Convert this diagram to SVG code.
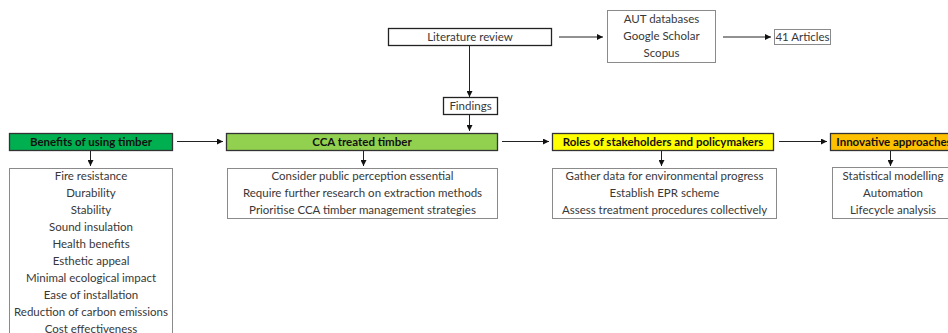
<svg xmlns="http://www.w3.org/2000/svg" width="948" height="333" viewBox="0 0 948 333">
<defs>
<marker id="ah" markerWidth="6" markerHeight="6" refX="6" refY="3" orient="auto" markerUnits="userSpaceOnUse">
<path d="M0,0 L6,3 L0,6 Z" fill="#111"/>
</marker>
<style>
text{font-family:Lato,"Open Sans",sans-serif;font-size:11.5px;fill:#383838;text-anchor:middle}
.h{font-weight:bold;fill:#111}
.hb{stroke:#333;stroke-width:1.3}
.cb{fill:#fff;stroke:#8a8a8a;stroke-width:1}
.kb{fill:#fff;stroke:#222;stroke-width:1.3}
.c{stroke:#222;stroke-width:1;fill:none;marker-end:url(#ah)}
</style>
</defs>
<rect width="948" height="333" fill="#fff"/>
<g id="connectors">
<line class="c" x1="559" y1="37" x2="603" y2="37"/>
<line class="c" x1="723" y1="37" x2="771" y2="37"/>
<line class="c" x1="469.5" y1="46" x2="469.5" y2="97"/>
<line class="c" x1="469.5" y1="115" x2="469.5" y2="131"/>
<line class="c" x1="177" y1="141.5" x2="223" y2="141.5"/>
<line class="c" x1="502" y1="141.5" x2="549" y2="141.5"/>
<line class="c" x1="779" y1="141.5" x2="827" y2="141.5"/>
<line class="c" x1="90.5" y1="151" x2="90.5" y2="166"/>
<line class="c" x1="363.5" y1="151" x2="363.5" y2="166"/>
<line class="c" x1="661.5" y1="151" x2="661.5" y2="166"/>
<line class="c" x1="890.5" y1="151" x2="890.5" y2="166"/>
</g>
<g id="literature-review">
<rect class="kb" x="388.5" y="28.5" width="163" height="17"/>
<text x="470" y="41">Literature review</text>
</g>
<g id="databases">
<rect class="cb" x="607.5" y="10.5" width="108" height="52"/>
<text x="661.5" y="23">AUT databases</text>
<text x="661.5" y="40">Google Scholar</text>
<text x="661.5" y="57">Scopus</text>
</g>
<g id="articles">
<rect class="cb" x="774.5" y="29.5" width="56" height="15"/>
<text x="802.5" y="41">41 Articles</text>
</g>
<g id="findings">
<rect class="kb" x="443.5" y="97.5" width="54" height="17"/>
<text x="470.5" y="110">Findings</text>
</g>
<g id="benefits">
<rect class="hb" x="9.5" y="133.5" width="163" height="17" fill="#00B050"/>
<text class="h" x="91" y="146">Benefits of using timber</text>
<rect class="cb" x="9.5" y="168.5" width="163" height="180"/>
<text x="91" y="180">Fire resistance</text>
<text x="91" y="197">Durability</text>
<text x="91" y="214">Stability</text>
<text x="91" y="231">Sound insulation</text>
<text x="91" y="248">Health benefits</text>
<text x="91" y="265">Esthetic appeal</text>
<text x="91" y="282">Minimal ecological impact</text>
<text x="91" y="299">Ease of installation</text>
<text x="91" y="316">Reduction of carbon emissions</text>
<text x="91" y="333">Cost effectiveness</text>
</g>
<g id="cca">
<rect class="hb" x="226.5" y="133.5" width="271" height="17" fill="#92D050"/>
<text class="h" x="362" y="146">CCA treated timber</text>
<rect class="cb" x="227.5" y="168.5" width="270" height="50"/>
<text x="362.5" y="180">Consider public perception essential</text>
<text x="362.5" y="197">Require further research on extraction methods</text>
<text x="362.5" y="214">Prioritise CCA timber management strategies</text>
</g>
<g id="roles">
<rect class="hb" x="552.5" y="133.5" width="221" height="17" fill="#FFFF00"/>
<text class="h" x="663" y="146">Roles of stakeholders and policymakers</text>
<rect class="cb" x="552.5" y="168.5" width="224" height="50"/>
<text x="664.5" y="180">Gather data for environmental progress</text>
<text x="664.5" y="197">Establish EPR scheme</text>
<text x="664.5" y="214">Assess treatment procedures collectively</text>
</g>
<g id="innovative">
<rect class="hb" x="830.5" y="133.5" width="130" height="17" fill="#FFC000"/>
<text class="h" x="894" y="146">Innovative approaches</text>
<rect class="cb" x="832.5" y="167.5" width="135" height="51"/>
<text x="893" y="180">Statistical modelling</text>
<text x="893" y="197">Automation</text>
<text x="893" y="214">Lifecycle analysis</text>
</g>
</svg>
